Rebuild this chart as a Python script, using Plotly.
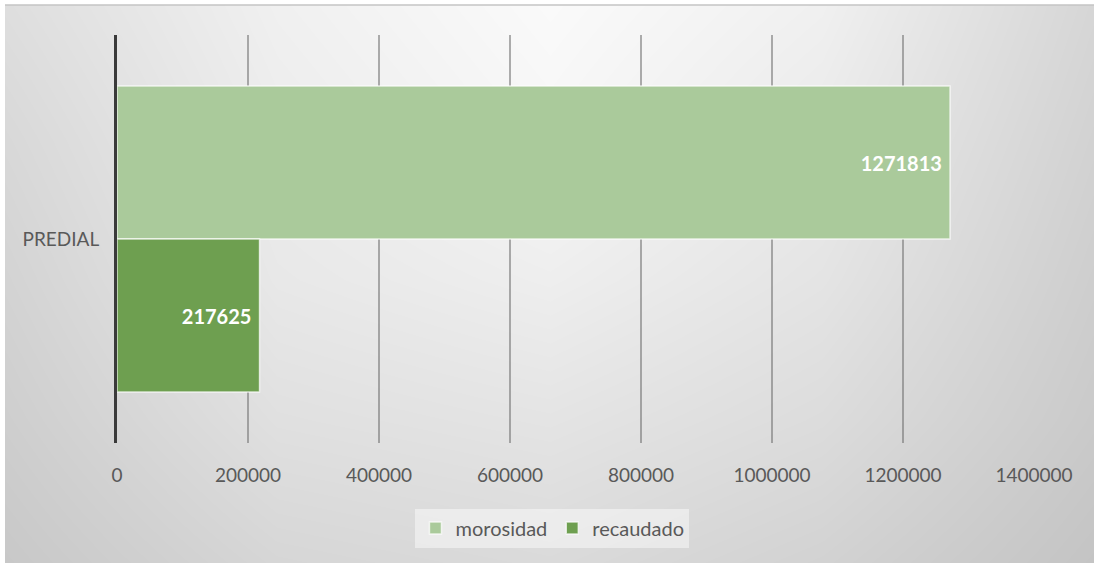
import plotly.graph_objects as go

# data
categories = ["PREDIAL"]
series_names = ["morosidad", "recaudado"]
morosidad = [1271813]
recaudado = [217625]
x_ticks = [0, 200000, 400000, 600000, 800000, 1000000, 1200000, 1400000]

# background shading (grey levels)
bg_x = [5, 277, 550, 822, 1094]
bg_y = [5, 140, 280, 420, 563]
bg_gray = [
    [222, 240, 250, 240, 214],
    [216, 236, 246, 234, 210],
    [211, 232, 238, 228, 206],
    [206, 224, 228, 220, 202],
    [200, 214, 218, 210, 196],
]

W, H = 1094, 563
colors = {"morosidad": "#aaca9b", "recaudado": "#6e9f50"}

fig = go.Figure()

# gradient backdrop on its own axes
fig.add_trace(go.Heatmap(
    x=bg_x, y=bg_y, z=bg_gray,
    zmin=0, zmax=255, zsmooth="best",
    colorscale=[[0, "rgb(0,0,0)"], [1, "rgb(255,255,255)"]],
    showscale=False, hoverinfo="skip",
    xaxis="x", yaxis="y",
))

for name, vals in zip(series_names, [morosidad, recaudado]):
    fig.add_trace(go.Bar(
        name=name,
        y=categories,
        x=vals,
        orientation="h",
        xaxis="x2", yaxis="y2",
        marker=dict(color=colors[name], line=dict(color="rgba(255,255,255,0.7)", width=1.5)),
        text=[f"<b>{v}</b>\u00a0" for v in vals],
        textposition="inside",
        insidetextanchor="end",
        textfont=dict(family="Lato", size=20, color="white"),
        hovertemplate="%{y}: %{x}<extra>" + name + "</extra>",
    ))

fig.update_layout(
    template="none",
    width=W, height=H,
    autosize=False,
    margin=dict(l=0, r=0, t=0, b=0, pad=0),
    paper_bgcolor="white",
    plot_bgcolor="rgba(0,0,0,0)",
    barmode="group",
    bargap=0.25,
    bargroupgap=0,
    font=dict(family="Lato", size=19, color="#595959"),
    xaxis=dict(domain=[5 / W, 1], range=[5, W], visible=False, fixedrange=True, automargin=False),
    yaxis=dict(domain=[0, 1 - 5 / H], range=[H, 5], visible=False, fixedrange=True, automargin=False),
    xaxis2=dict(
        domain=[117 / W, 1034 / W], anchor="y2", automargin=False,
        range=[0, 1400000], tickvals=x_ticks, ticktext=[str(t) for t in x_ticks],
        showgrid=True, gridcolor="rgba(110,110,110,0.55)", gridwidth=1.5,
        zeroline=False, showline=False, ticks="",
        ticklabelstandoff=19,
    ),
    yaxis2=dict(
        domain=[1 - 443 / H, 1 - 35 / H], anchor="x2", automargin=False,
        autorange="reversed",
        showline=True, linecolor="#3a3a3a", linewidth=3,
        showgrid=False, zeroline=False, ticks="", ticklabelstandoff=11,
    ),
    legend=dict(
        orientation="h", x=0.505, xanchor="center", y=1 - 528 / H, yanchor="middle",
        bgcolor="rgba(255,255,255,0.45)", borderwidth=0, font=dict(size=20, color="#595959"),
    ),
    shapes=[dict(type="line", xref="paper", yref="paper", x0=5 / W, x1=1,
                 y0=1 - 5 / H, y1=1 - 5 / H, line=dict(color="#c4c4c4", width=1.5))],
)

# keep the page exactly the size of the window (no body margin, no scrollbars)
post = (
    "document.documentElement.style.overflow='hidden';"
    "document.body.style.margin='0';"
    "document.body.style.overflow='hidden';"
    "var gd=document.getElementById('{plot_id}');"
    "Plotly.relayout(gd,{width:%d,height:%d});" % (W, H)
)

fig.write_html("out.html", config={"responsive": False, "displayModeBar": False}, post_script=post)
